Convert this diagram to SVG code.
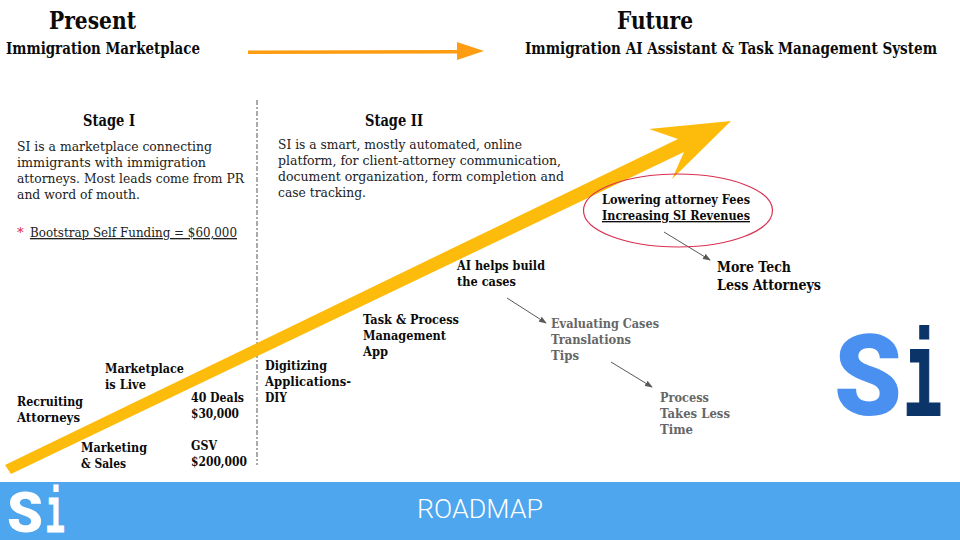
<svg xmlns="http://www.w3.org/2000/svg" width="960" height="540" viewBox="0 0 960 540">
<style>
text{font-family:"DejaVu Serif","Liberation Serif",serif;fill:#0b0b0b}
.h1{font-size:24px;font-weight:700}
.h2{font-size:16px;font-weight:700}
.b{font-size:13.33px;font-weight:400;fill:#222}
.l{font-size:13.33px;font-weight:700}
.g{font-size:13.33px;font-weight:700;fill:#666}
.m{font-size:14.67px;font-weight:700}
.u{text-decoration:underline}
.c{fill:none;stroke:#595959;stroke-width:1;marker-end:url(#sm)}
.ls{font-family:Roboto,"Liberation Sans",sans-serif;font-weight:900}
.li{font-family:"Liberation Mono",monospace;font-weight:700}
</style>
<defs>
<marker id="sm" markerUnits="userSpaceOnUse" markerWidth="8" markerHeight="6" refX="7" refY="3" orient="auto"><path d="M0 0L8 3L0 6Z" fill="#595959"/></marker>
</defs>
<rect width="960" height="540" fill="#fff"/>
<g id="connectors">
<path d="M257 100V465" fill="none" stroke="#555" stroke-width="1" stroke-dasharray="5 2 2 2"/>
<path id="big-arrow" d="M5 465L678 139L649 129L731 121L672 179L684 152L11 474Z" fill="#fdbb0b"/>
<path id="top-arrow" d="M248 50.5L457 50V42L484 51L457 60V53.5L248 54Z" fill="#ff9d12"/>
<path class="c" d="M664 232L710 260"/>
<path class="c" d="M507 298L546 323"/>
<path class="c" d="M611 362L652 387"/>
</g>
<g id="present"><text class="h1" x="49" y="29" textLength="87" lengthAdjust="spacingAndGlyphs">Present</text>
<text class="h2" x="6" y="54" textLength="194" lengthAdjust="spacingAndGlyphs">Immigration Marketplace</text></g>
<g id="future"><text class="h1" x="617" y="29" textLength="76" lengthAdjust="spacingAndGlyphs">Future</text>
<text class="h2" transform="translate(525 54) scale(.85 1)" x="0" y="0" textLength="484.7" lengthAdjust="spacingAndGlyphs">Immigration AI Assistant &amp; Task Management System</text></g>
<g id="stage-1"><text class="h2" x="83" y="126" textLength="52" lengthAdjust="spacingAndGlyphs">Stage I</text>
<text class="b" x="17" y="151" textLength="195" lengthAdjust="spacingAndGlyphs">SI is a marketplace connecting</text>
<text class="b" x="17" y="167" textLength="189" lengthAdjust="spacingAndGlyphs">immigrants with immigration</text>
<text class="b" x="17" y="183" textLength="227" lengthAdjust="spacingAndGlyphs">attorneys. Most leads come from PR</text>
<text class="b" x="17" y="199" textLength="123" lengthAdjust="spacingAndGlyphs">and word of mouth.</text>
<text class="b" x="17" y="237" style="fill:#e0203c">*</text>
<text class="b u" x="30" y="237" textLength="207" lengthAdjust="spacingAndGlyphs">Bootstrap Self Funding = $60,000</text></g>
<g id="stage-2"><text class="h2" x="365" y="126" textLength="58" lengthAdjust="spacingAndGlyphs">Stage II</text>
<text class="b" x="278" y="149" textLength="244" lengthAdjust="spacingAndGlyphs">SI is a smart, mostly automated, online</text>
<text class="b" x="278" y="165" textLength="283" lengthAdjust="spacingAndGlyphs">platform, for client-attorney communication,</text>
<text class="b" x="278" y="181" textLength="286" lengthAdjust="spacingAndGlyphs">document organization, form completion and</text>
<text class="b" x="278" y="197" textLength="88" lengthAdjust="spacingAndGlyphs">case tracking.</text></g>
<g id="outcome"><ellipse cx="678" cy="210.5" rx="94.5" ry="36.5" fill="none" stroke="#d9304f" stroke-width="1.2"/>
<text class="l" x="602" y="204" textLength="148" lengthAdjust="spacingAndGlyphs">Lowering attorney Fees</text>
<text class="l u" x="602" y="220" textLength="148" lengthAdjust="spacingAndGlyphs">Increasing SI Revenues</text></g>
<g id="more-tech"><text class="m" x="717" y="272" textLength="74" lengthAdjust="spacingAndGlyphs">More Tech</text>
<text class="m" x="717" y="290" textLength="104" lengthAdjust="spacingAndGlyphs">Less Attorneys</text></g>
<g id="ai-helps"><text class="l" x="457" y="270" textLength="88" lengthAdjust="spacingAndGlyphs">AI helps build</text>
<text class="l" x="457" y="286" textLength="59" lengthAdjust="spacingAndGlyphs">the cases</text></g>
<g id="task"><text class="l" x="363" y="324" textLength="96" lengthAdjust="spacingAndGlyphs">Task &amp; Process</text>
<text class="l" x="363" y="340" textLength="83" lengthAdjust="spacingAndGlyphs">Management</text>
<text class="l" x="363" y="356" textLength="25" lengthAdjust="spacingAndGlyphs">App</text></g>
<g id="digitizing"><text class="l" x="265" y="370" textLength="62" lengthAdjust="spacingAndGlyphs">Digitizing</text>
<text class="l" x="265" y="386" textLength="86" lengthAdjust="spacingAndGlyphs">Applications-</text>
<text class="l" x="265" y="402" textLength="22" lengthAdjust="spacingAndGlyphs">DIY</text></g>
<g id="marketplace-live"><text class="l" x="105" y="373" textLength="79" lengthAdjust="spacingAndGlyphs">Marketplace</text>
<text class="l" x="105" y="389" textLength="41" lengthAdjust="spacingAndGlyphs">is Live</text></g>
<g id="recruiting"><text class="l" x="17" y="406" textLength="66" lengthAdjust="spacingAndGlyphs">Recruiting</text>
<text class="l" x="17" y="422" textLength="63" lengthAdjust="spacingAndGlyphs">Attorneys</text></g>
<g id="marketing"><text class="l" x="81" y="452" textLength="66" lengthAdjust="spacingAndGlyphs">Marketing</text>
<text class="l" x="81" y="468" textLength="45" lengthAdjust="spacingAndGlyphs">&amp; Sales</text></g>
<g id="deals"><text class="l" x="191" y="402" textLength="53" lengthAdjust="spacingAndGlyphs">40 Deals</text>
<text class="l" x="191" y="418" textLength="48" lengthAdjust="spacingAndGlyphs">$30,000</text></g>
<g id="gsv"><text class="l" x="191" y="450" textLength="26" lengthAdjust="spacingAndGlyphs">GSV</text>
<text class="l" x="191" y="466" textLength="56" lengthAdjust="spacingAndGlyphs">$200,000</text></g>
<g id="evaluating"><text class="g" x="551" y="328" textLength="108" lengthAdjust="spacingAndGlyphs">Evaluating Cases</text>
<text class="g" x="551" y="344" textLength="80" lengthAdjust="spacingAndGlyphs">Translations</text>
<text class="g" x="551" y="360" textLength="28" lengthAdjust="spacingAndGlyphs">Tips</text></g>
<g id="process"><text class="g" x="660" y="402" textLength="49" lengthAdjust="spacingAndGlyphs">Process</text>
<text class="g" x="660" y="418" textLength="70" lengthAdjust="spacingAndGlyphs">Takes Less</text>
<text class="g" x="660" y="434" textLength="33" lengthAdjust="spacingAndGlyphs">Time</text></g>
<g id="logo"><text class="ls" x="834" y="415" font-size="114" style="fill:#4a90f0" textLength="68" lengthAdjust="spacingAndGlyphs">S</text>
<text class="li" transform="translate(903.5 415) scale(.533 1)" x="0" y="0" font-size="122" style="fill:#0b3469;stroke:#0b3469;stroke-width:2">i</text></g>
<g id="footer"><rect y="482" width="960" height="58" fill="#4da6ee"/>
<text x="417" y="518" font-size="26.67" style="font-family:Roboto,sans-serif;font-weight:300;fill:#fff" textLength="126" lengthAdjust="spacingAndGlyphs">ROADMAP</text>
<text class="ls" x="7" y="532" font-size="56" style="fill:#fff" textLength="36" lengthAdjust="spacingAndGlyphs">S</text>
<text class="li" transform="translate(45.5 532) scale(.508 1)" x="0" y="0" font-size="64" style="fill:#fff;stroke:#fff;stroke-width:1">i</text></g>
</svg>
